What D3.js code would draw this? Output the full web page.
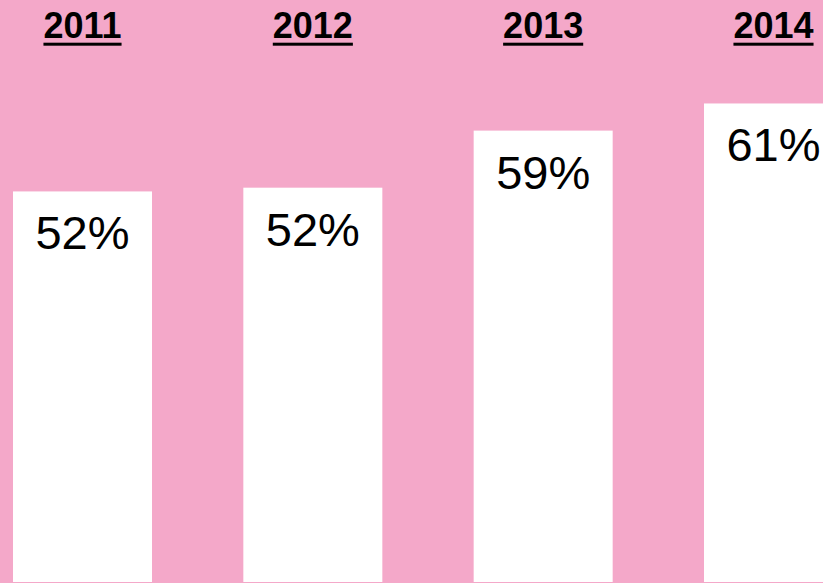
<!DOCTYPE html>
<html>
<head>
<meta charset="utf-8">
<script src="https://cdn.jsdelivr.net/npm/d3@7"></script>
<style>
  html, body { margin: 0; padding: 0; background: #F4A8C9; overflow: hidden; }
  svg { display: block; }
</style>
</head>
<body>
<svg id="chart" width="823" height="583"></svg>
<script>
const years = ["2011", "2012", "2013", "2014"];
const shares = [52.0, 52.4, 58.5, 61.4];

const W = 823, H = 583;
const svg = d3.select("#chart");

svg.append("rect").attr("width", W).attr("height", H).attr("fill", "#F4A8C9");

const x = d3.scaleBand().domain(years).range([13, 843]).paddingInner(0.3965).paddingOuter(0);
const y = d3.scaleLinear().domain([0, 70]).range([678, 23]);
const barBottom = 582;

const data = years.map((yr, i) => ({ year: yr, value: shares[i] }));

svg.selectAll("rect.bar").data(data).join("rect")
  .attr("class", "bar")
  .attr("x", d => x(d.year))
  .attr("y", d => y(d.value))
  .attr("width", x.bandwidth())
  .attr("height", d => barBottom - y(d.value))
  .attr("fill", "#ffffff");

svg.selectAll("text.val").data(data).join("text")
  .attr("class", "val")
  .attr("x", d => x(d.year) + x.bandwidth() / 2)
  .attr("y", d => y(d.value) + 58)
  .attr("text-anchor", "middle")
  .attr("font-family", "Liberation Sans, Arial, sans-serif")
  .attr("font-size", 47)
  .attr("fill", "#000")
  .text(d => Math.round(d.value) + "%");

const yearG = svg.selectAll("g.year").data(data).join("g").attr("class", "year");
yearG.append("text")
  .attr("x", d => x(d.year) + x.bandwidth() / 2)
  .attr("y", 38)
  .attr("text-anchor", "middle")
  .attr("font-family", "Liberation Sans, Arial, sans-serif")
  .attr("font-weight", "bold")
  .attr("font-size", 36)
  .attr("fill", "#000")
  .text(d => d.year);
yearG.each(function(d) {
  const t = d3.select(this).select("text");
  const w = t.node().getComputedTextLength();
  const cx = x(d.year) + x.bandwidth() / 2;
  d3.select(this).append("rect")
    .attr("x", cx - w / 2)
    .attr("y", 42.7)
    .attr("width", w)
    .attr("height", 3)
    .attr("fill", "#000");
});
</script>
</body>
</html>
